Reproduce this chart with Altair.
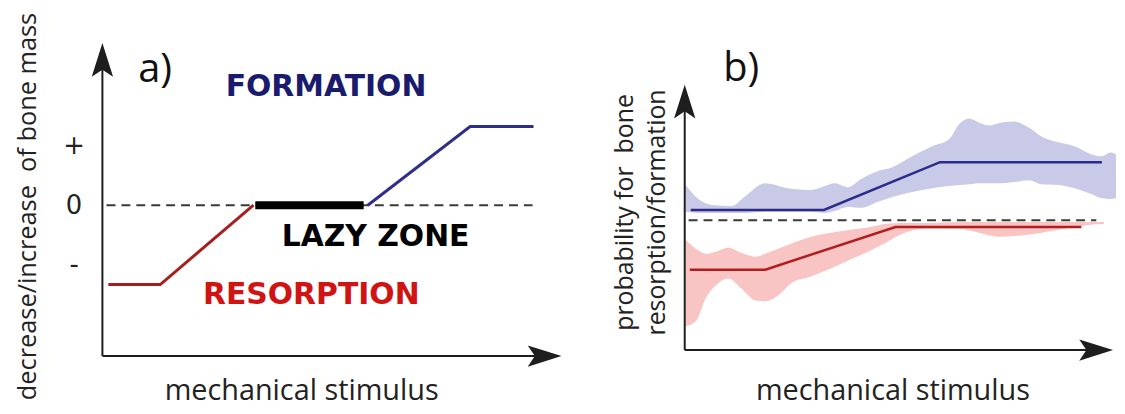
import altair as alt
import pandas as pd

# ---------------- panel a (schematic) ----------------
a_x_range = [0, 10]
a_y_range = [-2.53, 2.72]
a_red_x = [0.13, 1.26, 3.29]
a_red_y = [-1.33, -1.33, 0.0]
a_lazy_x = [3.33, 5.69]
a_lazy_y = [0.0, 0.0]
a_blue_x = [5.78, 8.01, 9.39]
a_blue_y = [0.0, 1.32, 1.32]
a_zero_x = [0.09, 9.37]
a_tick_values = [-1, 0, 1]
a_tick_labels = ["-", "0", "+"]
a_notes = ["FORMATION", "LAZY ZONE", "RESORPTION"]
a_notes_x = [4.87, 5.95, 4.55]
a_notes_y = [1.98, -0.53, -1.5]
a_notes_color = ["#1b1b6e", "#000000", "#d01414"]
a_tag = ["a)"]
a_tag_x = [1.15]
a_tag_y = [2.27]

# ---------------- panel b (probabilities) ----------------
b_x_range = [0, 10]
b_y_range = [-2.25, 115.7]
b_axis_top = 100
b_blue_band_x = [0.02, 0.32, 0.63, 1.09, 1.42, 1.88, 2.41, 2.95, 3.27, 3.50, 3.81,
                 4.11, 4.50, 4.85, 5.31, 5.78, 6.17, 6.40, 6.64, 6.87, 7.10, 7.40,
                 7.70, 8.03, 8.33, 8.72, 9.10, 9.49, 9.72, 9.95, 10.07]
b_blue_band_hi = [62.2, 56.9, 54.7, 54.3, 58.1, 62.9, 61.0, 60.3, 61.8, 62.9, 61.4,
                  64.4, 67.4, 68.9, 73.0, 76.8, 79.4, 85.0, 87.3, 85.8, 84.6, 85.8,
                  86.1, 83.9, 80.5, 78.3, 76.8, 73.8, 73.0, 74.5, 73.8]
b_blue_band_lo = [52.1, 51.7, 51.7, 51.7, 51.7, 52.1, 52.1, 52.1, 51.7, 52.4, 53.9,
                  53.6, 55.8, 57.7, 59.6, 61.0, 61.8, 62.2, 62.5, 62.9, 62.9, 62.9,
                  63.3, 64.0, 62.5, 62.2, 61.0, 58.8, 57.3, 56.9, 57.3]
b_red_band_x = [0.02, 0.26, 0.49, 0.72, 1.02, 1.32, 1.65, 1.88, 2.18, 2.48, 2.95,
                3.41, 3.87, 4.34, 4.73, 5.08, 5.61, 6.40, 6.87, 7.33, 7.80, 8.33,
                8.86, 9.26, 9.79]
b_red_band_hi = [41.6, 38.2, 36.3, 37.1, 38.6, 36.7, 35.2, 36.3, 38.2, 40.1, 42.7,
                 44.2, 45.3, 46.4, 47.6, 47.9, 47.9, 48.3, 48.3, 48.3, 48.3, 48.3,
                 48.3, 48.3, 48.3]
b_red_band_lo = [9.0, 10.9, 19.5, 24.3, 27.0, 23.2, 18.7, 18.4, 20.6, 25.1, 27.7,
                 30.7, 34.1, 37.5, 40.8, 43.8, 45.7, 45.7, 44.2, 42.7, 43.1, 44.2,
                 45.7, 46.8, 47.6]
b_blue_x = [0.14, 3.25, 5.96, 9.74]
b_blue_y = [52.8, 52.8, 70.8, 70.8]
b_red_x = [0.12, 1.88, 4.92, 9.26]
b_red_y = [30.3, 30.3, 46.4, 46.4]
b_zero_x = [0.09, 9.61]
b_zero_y = 48.9
b_tag = ["b)"]
b_tag_x = [1.32]
b_tag_y = [106]

AX = "#1e1e1e"
UP_ARROW = "M0,0 L0.6,1.9 L0,1.5 L-0.6,1.9 Z"
RIGHT_ARROW = "M0,0 L-1.9,-0.6 L-1.5,0 L-1.9,0.6 Z"
TITLE_FONT = "Open Sans"


def panel(xr, yr, width, height, xaxis, yaxis, layers_spec):
    sx = alt.Scale(domain=xr, nice=False, zero=False)
    sy = alt.Scale(domain=yr, nice=False, zero=False)
    X = alt.X("x:Q", scale=sx, axis=xaxis)
    Y = alt.Y("y:Q", scale=sy, axis=yaxis)
    layers = [f(X, Y) for f in layers_spec]
    return alt.layer(*layers).properties(width=width, height=height)


def axis_layers(xr, yr, y_top, y_bottom):
    rules = pd.DataFrame({
        "x": [xr[0], xr[0]],
        "y": [y_bottom, y_bottom],
        "x2": [xr[1] - 0.5, xr[0]],
        "y2": [y_bottom, y_top - (yr[1] - yr[0]) * 0.07],
    })
    up = pd.DataFrame({"x": [xr[0]], "y": [y_top]})
    right = pd.DataFrame({"x": [xr[1]], "y": [y_bottom]})
    return [
        lambda X, Y: alt.Chart(rules).mark_rule(color=AX, strokeWidth=2).encode(
            x=X, y=Y, x2="x2:Q", y2="y2:Q"),
        lambda X, Y: alt.Chart(up).mark_point(shape=UP_ARROW, size=1280, filled=True,
                                              color=AX, opacity=1, strokeWidth=0).encode(x=X, y=Y),
        lambda X, Y: alt.Chart(right).mark_point(shape=RIGHT_ARROW, size=1280, filled=True,
                                                 color=AX, opacity=1, strokeWidth=0).encode(x=X, y=Y),
    ]


def line_layer(xs, ys, color, width):
    df = pd.DataFrame({"x": xs, "y": ys})
    return lambda X, Y: alt.Chart(df).mark_line(color=color, strokeWidth=width).encode(x=X, y=Y)


def dash_layer(xs, yv):
    df = pd.DataFrame({"x": [xs[0]], "x2": [xs[1]], "y": [yv]})
    return lambda X, Y: alt.Chart(df).mark_rule(color="#3a3a3a", strokeWidth=2,
                                                strokeDash=[9, 6]).encode(x=X, x2="x2:Q", y=Y)


def band_layer(xs, hi, lo, color):
    df = pd.DataFrame({"x": xs, "y": hi, "y2": lo})
    return lambda X, Y: alt.Chart(df).mark_area(color=color, opacity=1,
                                                interpolate="monotone").encode(x=X, y=Y, y2="y2:Q")


def tag_layer(t, xs, ys):
    df = pd.DataFrame({"x": xs, "y": ys, "t": t})
    return lambda X, Y: alt.Chart(df).mark_text(font=TITLE_FONT, fontSize=40, color="#111",
                                                align="center", baseline="middle").encode(
        x=X, y=Y, text="t:N")


# label expression built from tick arrays
label_expr = "''"
for v, lab in zip(a_tick_values, a_tick_labels):
    label_expr = f"datum.value == {v} ? '{lab}' : ({label_expr})"

xaxis_a = alt.Axis(domain=False, ticks=False, labels=False, grid=False,
                   title="mechanical stimulus", titleFont=TITLE_FONT, titleFontSize=29,
                   titleFontWeight="normal", titleColor="#222", titleX=200, titleY=35,
                   titleAlign="center", titleBaseline="middle")
yaxis_a = alt.Axis(domain=False, ticks=False, tickSize=0, grid=False, values=a_tick_values,
                   labelExpr=label_expr, labelFont="DejaVu Sans", labelFontSize=26,
                   labelColor="#222", labelAlign="center", labelBaseline="middle",
                   labelPadding=29,
                   title="decrease/increase\u00a0 of bone mass", titleFont=TITLE_FONT,
                   titleFontSize=25.5, titleFontWeight="normal", titleColor="#222",
                   titleAngle=270, titleX=-75, titleY=164, titleAlign="center",
                   titleBaseline="middle")

notes_df = pd.DataFrame({"x": a_notes_x, "y": a_notes_y, "t": a_notes, "c": a_notes_color})

layers_a = [
    dash_layer(a_zero_x, 0.0),
    line_layer(a_red_x, a_red_y, "#a81e1e", 3),
    line_layer(a_lazy_x, a_lazy_y, "#000000", 8),
    line_layer(a_blue_x, a_blue_y, "#2e2e8c", 3),
    *axis_layers(a_x_range, a_y_range, a_y_range[1], a_y_range[0]),
    lambda X, Y: alt.Chart(notes_df).mark_text(font="DejaVu Sans", fontWeight="bold",
                                               fontSize=30, align="center",
                                               baseline="middle").encode(
        x=X, y=Y, text="t:N", color=alt.Color("c:N", scale=None)),
    tag_layer(a_tag, a_tag_x, a_tag_y),
]

xaxis_b = alt.Axis(domain=False, ticks=False, labels=False, grid=False,
                   title="mechanical stimulus", titleFont=TITLE_FONT, titleFontSize=29,
                   titleFontWeight="normal", titleColor="#222", titleX=209, titleY=35,
                   titleAlign="center", titleBaseline="middle")
yaxis_b = alt.Axis(domain=False, ticks=False, labels=False, grid=False,
                   title=["probability for\u00a0 bone", "resorption/formation"],
                   titleFont=TITLE_FONT, titleFontSize=25, titleFontWeight="normal",
                   titleColor="#222", titleAngle=270, titleX=-61, titleY=170,
                   titleAlign="center", titleBaseline="middle", titleLineHeight=33)

layers_b = [
    band_layer(b_blue_band_x, b_blue_band_hi, b_blue_band_lo, "#c9c9e8"),
    band_layer(b_red_band_x, b_red_band_hi, b_red_band_lo, "#f8c4c4"),
    dash_layer(b_zero_x, b_zero_y),
    line_layer(b_blue_x, b_blue_y, "#2b2b8a", 2.5),
    line_layer(b_red_x, b_red_y, "#b01e1e", 2.5),
    *axis_layers(b_x_range, b_y_range, b_axis_top, 0),
    tag_layer(b_tag, b_tag_x, b_tag_y),
]

pa = panel(a_x_range, a_y_range, 462, 315, xaxis_a, yaxis_a, layers_a)
pb = panel(b_x_range, b_y_range, 431, 315, xaxis_b, yaxis_b, layers_b)

chart = alt.hconcat(pa, pb, spacing=51).resolve_scale(
    x="independent", y="independent").properties(
    padding={"left": 7, "top": 3, "right": 0, "bottom": 0},
    background="white").configure_view(stroke=None)

chart.save("out.html", embed_options={"renderer": "svg", "actions": False})
